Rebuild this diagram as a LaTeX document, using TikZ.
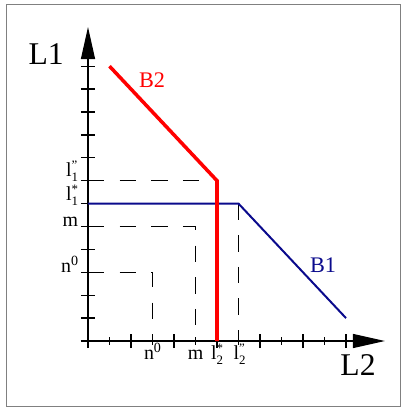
\documentclass[tikz,border=0pt]{standalone}
\usepackage{fontspec}
\setmainfont{Liberation Serif}
\usetikzlibrary{arrows.meta,positioning}
\definecolor{navyline}{RGB}{10,10,140}
\newcommand{\lsubsup}[2]{l\raisebox{-0.55ex}{\fontsize{11}{11}\selectfont\setlength{\lineskip}{0pt}\shortstack[l]{#2\\#1}}}
\newcommand{\supzero}[1]{#1\raisebox{0.75ex}{\fontsize{12}{12}\selectfont 0}}
\begin{document}
\begin{tikzpicture}[x=0.645cm, y=0.687cm, >={Triangle[length=0.96cm,width=0.42cm]}] % Styles
\tikzstyle{axis}=[line width=1.1pt]
\tikzstyle{guide}=[line width=0.8pt, dash pattern=on 14pt off 13pt]
\tikzstyle{curveB2}=[line width=3pt, red, line join=miter]
\tikzstyle{curveB1}=[line width=1.7pt, navyline, line join=miter]
\tikzstyle{ticklbl}=[font=\fontsize{17}{17}\selectfont, inner sep=0pt]
\tikzstyle{axislbl}=[font=\fontsize{27}{27}\selectfont, inner sep=0pt]
\tikzstyle{curvelbl}=[font=\fontsize{19}{19}\selectfont, inner sep=0pt]
\useasboundingbox (-4.093,-2.882) rectangle (14.558,14.891);
\draw[gray, line width=0.6pt] (-3.814,-2.838) rectangle (14.512,14.716); % Points
\coordinate (o) at (0,0);
\coordinate (xs) at (-0.34,0);
\coordinate (xe) at (13.81,0);
\coordinate (ys) at (0,-0.3);
\coordinate (ye) at (0,13.71);
\coordinate (b2a) at (1,12);
\coordinate (b2b) at (6,7);
\coordinate (b2c) at (6,0);
\coordinate (b1a) at (0,6);
\coordinate (b1b) at (7,6);
\coordinate (b1c) at (12,1);
\coordinate (l1pp) at (0,7);
\coordinate (m1) at (0,5);
\coordinate (mm) at (5,5);
\coordinate (m2) at (5,0);
\coordinate (n1) at (0,3);
\coordinate (nn) at (3,3);
\coordinate (n2) at (3,0);
\coordinate (l2pp) at (7,0); % Guides
\draw[guide] (l1pp) -- (b2b);
\draw[guide] (m1) -- (mm) -- (m2);
\draw[guide] (n1) -- (nn) -- (n2);
\draw[guide] (b1b) -- (l2pp); % Axes
\draw[axis, ->] (xs) -- (xe);
\draw[axis, ->] (ys) -- (ye);
\foreach \i in {1,...,12} {
  \pgfmathsetmacro{\h}{isodd(\i) ? 0.17 : 0.31}
  \draw[axis] (\i,-\h) -- (\i,\h);
  \draw[axis] (-0.33,\i) -- (0.33,\i);
}
\draw[axis] (0,0) -- (0,-0.31); % Curves
\draw[curveB1] (b1a) -- (b1b) -- (b1c);
\draw[curveB2] (b2a) -- (b2b) -- (b2c); % Labels
\node[axislbl] (L1) at (-1.95,12.55) {L1};
\node[axislbl] (L2) at (12.56,-1.07) {L2};
\node[curvelbl, red] (B2) at (2.98,11.4) {B2};
\node[curvelbl, navyline] (B1) at (10.93,3.32) {B1};
\node[ticklbl, anchor=base east] (yl1pp) at (-0.45,7.2) {\lsubsup{1}{"}};
\node[ticklbl, anchor=base east] (yl1s) at (-0.45,6.15) {\lsubsup{1}{*}};
\node[ticklbl, anchor=base east] (ym) at (-0.45,5) {m};
\node[ticklbl, anchor=base east] (yn) at (-0.45,3) {\supzero{n}};
\node[ticklbl, anchor=base] (xn) at (3,-0.8) {\supzero{n}};
\node[ticklbl, anchor=base] (xm) at (5,-0.8) {m};
\node[ticklbl, anchor=base] (xl2s) at (6,-0.8) {\lsubsup{2}{*}};
\node[ticklbl, anchor=base] (xl2pp) at (7.05,-0.8) {\lsubsup{2}{"}};
\end{tikzpicture}
\end{document}
